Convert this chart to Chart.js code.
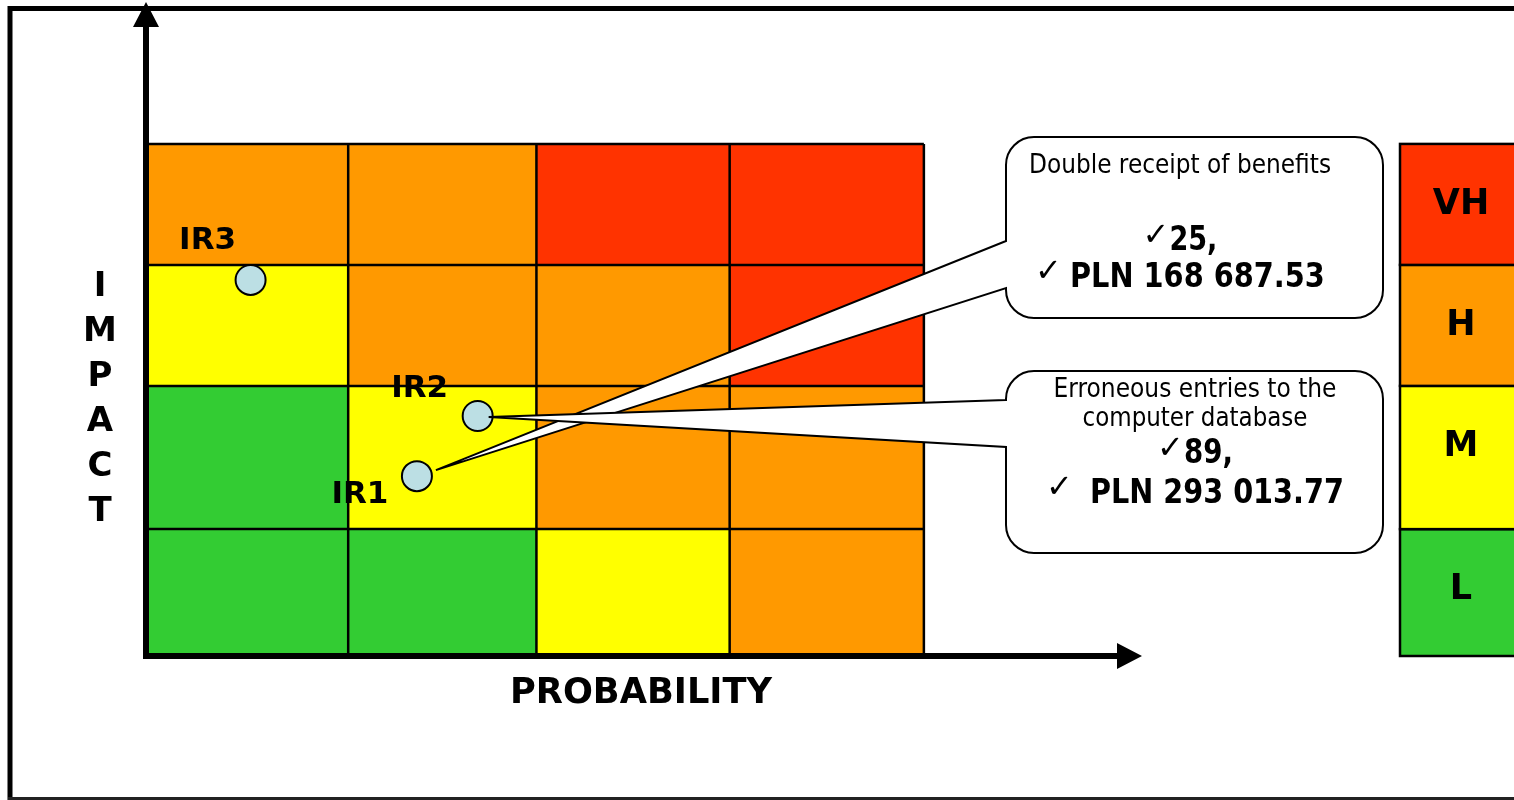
<!DOCTYPE html>
<html>
<head>
<meta charset="utf-8">
<script src="https://cdn.jsdelivr.net/npm/chart.js@4.4.1/dist/chart.umd.min.js"></script>
<style>
  html, body { margin: 0; padding: 0; background: #fff; }
  #wrap { width: 1514px; height: 800px; position: relative; }
</style>
</head>
<body>
<div id="wrap"><canvas id="riskChart"></canvas></div>
<script>
// band edges of the matrix, in chart units
const probabilityEdges = [0, 2.03, 3.92, 5.86, 7.81];
const impactEdges = [0, 1.94, 4.13, 5.98, 7.83];
const impactLevels = ["L", "M", "H", "VH"];
// level of each cell, rows from low impact up
const cellLevels = [
  ["L", "L", "M", "H"],
  ["L", "M", "H", "H"],
  ["M", "H", "H", "VH"],
  ["H", "H", "VH", "VH"],
];
const levelColors = { L: "#33CC33", M: "#FFFF00", H: "#FF9900", VH: "#FF3300" };

const riskLabels = ["IR1", "IR2", "IR3"];
const riskProbability = [2.72, 3.33, 1.05];
const riskImpact = [2.75, 3.67, 5.75];

const calloutRisk = ["IR1", "IR2"];
const calloutTitles = [
  ["Double receipt of benefits"],
  ["Erroneous entries to the", "computer database"],
];
const calloutCounts = ["25", "89"];
const calloutAmounts = ["PLN 168 687.53", "PLN 293 013.77"];

const FONT = "'DejaVu Sans', sans-serif";
const CHECK = "\u2713";

// where the labels sit around each point
const labelOffsets = { IR1: [-57, 27], IR2: [-58, -19], IR3: [-43, -31] };

// callout boxes (page layout)
const boxes = [
  { left: 1006, top: 137, right: 1383, bottom: 318, tailTop: 241, tailBottom: 288, tip: [19, -6],
    cx: 1180, titleBase: [173], titleWidth: [302], countBase: 250, countWidth: 48, countGap: 0,
    amountBase: 287, amountWidth: 255, amountGap: 8 },
  { left: 1006, top: 371, right: 1383, bottom: 553, tailTop: 400, tailBottom: 447, tip: [11, 1],
    cx: 1195, titleBase: [397, 426], titleWidth: [283, 225], countBase: 463, countWidth: 49, countGap: 0,
    amountBase: 503, amountWidth: 254, amountGap: 17 },
];

function checkLine(ctx, cx, base, text, gap, width, lift) {
  ctx.font = "32px " + FONT;
  const cw = ctx.measureText(CHECK).width;
  ctx.font = "bold 33px " + FONT;
  const tw = Math.min(ctx.measureText(text).width, width);
  const start = cx - (cw + gap + tw) / 2;
  ctx.textAlign = "left";
  ctx.font = "32px " + FONT;
  ctx.fillText(CHECK, start, base - lift);
  ctx.font = "bold 33px " + FONT;
  ctx.fillText(text, start + cw + gap, base, width);
}

function callout(ctx, b, tipX, tipY) {
  const r = 28;
  ctx.beginPath();
  ctx.moveTo(b.left, b.tailTop);
  ctx.lineTo(tipX, tipY);
  ctx.lineTo(b.left, b.tailBottom);
  ctx.lineTo(b.left, b.bottom - r);
  ctx.arcTo(b.left, b.bottom, b.left + r, b.bottom, r);
  ctx.lineTo(b.right - r, b.bottom);
  ctx.arcTo(b.right, b.bottom, b.right, b.bottom - r, r);
  ctx.lineTo(b.right, b.top + r);
  ctx.arcTo(b.right, b.top, b.right - r, b.top, r);
  ctx.lineTo(b.left + r, b.top);
  ctx.arcTo(b.left, b.top, b.left, b.top + r, r);
  ctx.closePath();
  ctx.fillStyle = "#fff";
  ctx.fill();
  ctx.lineWidth = 2;
  ctx.strokeStyle = "#000";
  ctx.stroke();
}

const riskMatrix = {
  id: "riskMatrix",
  beforeDatasetsDraw(chart) {
    const { ctx, scales: { x, y } } = chart;
    ctx.save();

    // outer frame
    ctx.strokeStyle = "#000";
    ctx.lineWidth = 5;
    ctx.beginPath();
    ctx.moveTo(1530, 8.5);
    ctx.lineTo(10, 8.5);
    ctx.lineTo(10, 800);
    ctx.stroke();
    ctx.lineWidth = 3;
    ctx.strokeStyle = "#222";
    ctx.beginPath();
    ctx.moveTo(8, 798.5);
    ctx.lineTo(1530, 798.5);
    ctx.stroke();

    // cells
    cellLevels.forEach((row, r) => {
      row.forEach((lvl, c) => {
        const x0 = x.getPixelForValue(probabilityEdges[c]);
        const x1 = x.getPixelForValue(probabilityEdges[c + 1]);
        const y0 = y.getPixelForValue(impactEdges[r + 1]);
        const y1 = y.getPixelForValue(impactEdges[r]);
        ctx.fillStyle = levelColors[lvl];
        ctx.fillRect(x0, y0, x1 - x0, y1 - y0);
      });
    });

    // grid lines
    const gx0 = x.getPixelForValue(probabilityEdges[0]);
    const gx1 = x.getPixelForValue(probabilityEdges[probabilityEdges.length - 1]);
    const gy0 = y.getPixelForValue(impactEdges[0]);
    const gy1 = y.getPixelForValue(impactEdges[impactEdges.length - 1]);
    ctx.strokeStyle = "#000";
    ctx.lineWidth = 2.5;
    ctx.beginPath();
    probabilityEdges.forEach((v) => {
      const px = x.getPixelForValue(v);
      ctx.moveTo(px, gy0);
      ctx.lineTo(px, gy1);
    });
    impactEdges.forEach((v) => {
      const py = y.getPixelForValue(v);
      ctx.moveTo(gx0, py);
      ctx.lineTo(gx1, py);
    });
    ctx.stroke();

    // level key on the right
    const kx = 1400;
    ctx.lineWidth = 2.5;
    impactLevels.forEach((lvl, i) => {
      const top = y.getPixelForValue(impactEdges[i + 1]);
      const bot = y.getPixelForValue(impactEdges[i]);
      ctx.fillStyle = levelColors[lvl];
      ctx.fillRect(kx, top, 200, bot - top);
      ctx.strokeRect(kx, top, 200, bot - top);
      ctx.fillStyle = "#000";
      ctx.font = "bold 35px " + FONT;
      ctx.textAlign = "center";
      ctx.fillText(lvl, 1461, top + 70);
    });

    // axes with arrow heads
    ctx.lineWidth = 6;
    ctx.beginPath();
    ctx.moveTo(x.left, y.bottom + 3);
    ctx.lineTo(x.left, y.top + 24);
    ctx.moveTo(x.left - 3, y.bottom);
    ctx.lineTo(x.right - 24, y.bottom);
    ctx.stroke();
    ctx.fillStyle = "#000";
    ctx.beginPath();
    ctx.moveTo(x.left, y.top);
    ctx.lineTo(x.left - 13, y.top + 25);
    ctx.lineTo(x.left + 13, y.top + 25);
    ctx.closePath();
    ctx.moveTo(x.right, y.bottom);
    ctx.lineTo(x.right - 25, y.bottom - 13);
    ctx.lineTo(x.right - 25, y.bottom + 13);
    ctx.closePath();
    ctx.fill();

    // axis titles
    ctx.textAlign = "center";
    ctx.font = "bold 36px " + FONT;
    ctx.fillText("PROBABILITY", 641, 703, 262);
    ctx.font = "bold 34px " + FONT;
    "IMPACT".split("").forEach((ch, i) => {
      ctx.fillText(ch, 100, 296 + i * 45);
    });
    ctx.restore();
  },
  afterDatasetsDraw(chart) {
    const { ctx } = chart;
    const pts = chart.getDatasetMeta(0).data;
    ctx.save();

    boxes.forEach((b, i) => {
      const p = pts[riskLabels.indexOf(calloutRisk[i])];
      callout(ctx, b, p.x + b.tip[0], p.y + b.tip[1]);
      ctx.fillStyle = "#000";
      ctx.textAlign = "center";
      ctx.font = "27px " + FONT;
      calloutTitles[i].forEach((t, k) => {
        ctx.fillText(t, b.cx, b.titleBase[k], b.titleWidth[k]);
      });
      checkLine(ctx, b.cx, b.countBase, calloutCounts[i] + ",", b.countGap, b.countWidth, 5);
      checkLine(ctx, b.cx, b.amountBase, calloutAmounts[i], b.amountGap, b.amountWidth, 6);
    });

    ctx.fillStyle = "#000";
    ctx.textAlign = "center";
    ctx.font = "bold 31px " + FONT;
    riskLabels.forEach((lab, i) => {
      const o = labelOffsets[lab];
      ctx.fillText(lab, pts[i].x + o[0], pts[i].y + o[1], 58);
    });
    ctx.restore();
  },
};

Chart.defaults.font.family = FONT;

new Chart(document.getElementById("riskChart"), {
  type: "scatter",
  data: {
    datasets: [{
      label: "Risks",
      data: riskLabels.map((lab, i) => ({ x: riskProbability[i], y: riskImpact[i] })),
      pointRadius: 15,
      pointHoverRadius: 15,
      pointBackgroundColor: "#BCDFE4",
      pointBorderColor: "#000",
      pointBorderWidth: 2,
      clip: false,
    }],
  },
  options: {
    responsive: true,
    maintainAspectRatio: false,
    devicePixelRatio: 1,
    animation: false,
    layout: { autoPadding: false, padding: { left: 146, right: 372, top: 2, bottom: 144 } },
    scales: {
      x: { type: "linear", min: 0, max: 10, display: false },
      y: { type: "linear", min: 0, max: 10, display: false },
    },
    plugins: { legend: { display: false }, tooltip: { enabled: false } },
  },
  plugins: [riskMatrix],
});
</script>
</body>
</html>
